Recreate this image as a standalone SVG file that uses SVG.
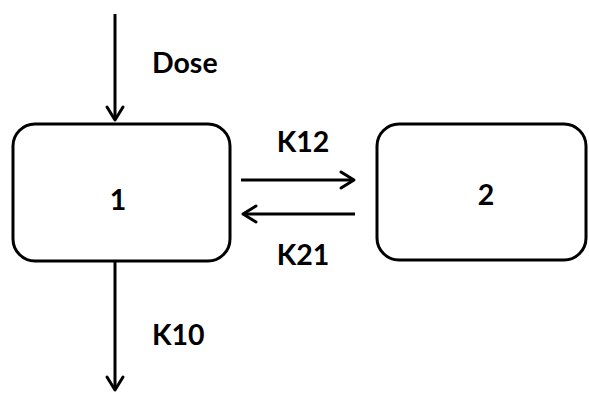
<svg xmlns="http://www.w3.org/2000/svg" width="589" height="393" viewBox="0 0 589 393">
<defs>
<style>
.box{fill:#fff;stroke:#000;stroke-width:3}
.ln{stroke:#000;stroke-width:3;fill:none}
.hd{stroke:#000;stroke-width:3;fill:none;stroke-linecap:round;stroke-linejoin:round}
text{font-family:Lato,"Open Sans",sans-serif;font-weight:bold;font-size:28.5px;fill:#000}
</style>
</defs>
<rect width="589" height="393" fill="#fff"/>
<g id="node1">
<rect class="box" x="13" y="124" width="217" height="137" rx="22"/>
<text x="118" y="210" text-anchor="middle">1</text>
</g>
<g id="node2">
<rect class="box" x="377" y="124" width="209" height="136" rx="22"/>
<text x="486" y="205" text-anchor="middle">2</text>
</g>
<g id="connectors">
<line class="ln" x1="115" y1="14" x2="115" y2="120"/>
<polyline class="hd" points="107,107 115,120 123,107"/>
<line class="ln" x1="241" y1="180" x2="353" y2="180"/>
<polyline class="hd" points="341,172 354,180 341,188"/>
<line class="ln" x1="355" y1="214" x2="244" y2="214"/>
<polyline class="hd" points="256,206 243,214 256,222"/>
<line class="ln" x1="115" y1="262" x2="115" y2="389"/>
<polyline class="hd" points="107,377 115,390 123,377"/>
</g>
<g id="labels">
<text x="152" y="73">Dose</text>
<text x="303" y="152" text-anchor="middle">K12</text>
<text x="303" y="265" text-anchor="middle">K21</text>
<text x="152" y="345">K10</text>
</g>
</svg>
